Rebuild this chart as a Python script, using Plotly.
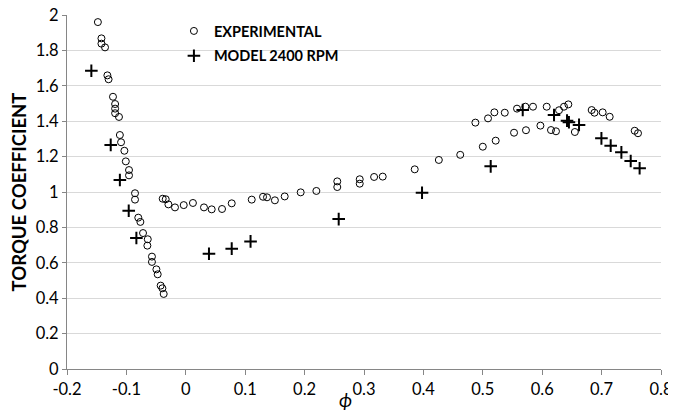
import plotly.graph_objects as go

exp_phi = [-0.148, -0.142, -0.142, -0.136, -0.132, -0.130, -0.1226, -0.119, -0.119, -0.119,
           -0.1125, -0.111, -0.109, -0.1034, -0.101, -0.0956, -0.0956, -0.0855, -0.0855, -0.080,
           -0.0765, -0.072, -0.064, -0.0647, -0.057, -0.057, -0.0495, -0.0473, -0.0423, -0.0394,
           -0.0372, -0.0389, -0.0338, -0.0293, -0.0182, -0.0035, 0.012, 0.0306, 0.0436, 0.061,
           0.0773, 0.111, 0.130, 0.1367, 0.150, 0.1665, 0.1934, 0.2198, 0.255, 0.255,
           0.2928, 0.2928, 0.317, 0.3315, 0.3854, 0.426, 0.462, 0.4875, 0.500, 0.5088,
           0.5195, 0.5217, 0.537, 0.5526, 0.5576, 0.5717, 0.5727, 0.5845, 0.597, 0.6076,
           0.6148, 0.6232, 0.6283, 0.6367, 0.644, 0.655, 0.6833, 0.688, 0.7018, 0.7136,
           0.7557, 0.7613]
exp_torque = [1.960, 1.868, 1.838, 1.817, 1.659, 1.637, 1.538, 1.497, 1.471, 1.445,
              1.424, 1.322, 1.281, 1.233, 1.173, 1.124, 1.094, 0.993, 0.957, 0.855,
              0.831, 0.768, 0.733, 0.697, 0.635, 0.605, 0.563, 0.535, 0.471, 0.456,
              0.424, 0.962, 0.959, 0.930, 0.913, 0.926, 0.938, 0.913, 0.902, 0.904,
              0.936, 0.957, 0.973, 0.970, 0.953, 0.975, 0.998, 1.006, 1.060, 1.028,
              1.072, 1.047, 1.085, 1.087, 1.128, 1.181, 1.210, 1.392, 1.256, 1.416,
              1.450, 1.290, 1.448, 1.335, 1.471, 1.482, 1.349, 1.482, 1.375, 1.482,
              1.350, 1.343, 1.462, 1.482, 1.495, 1.339, 1.463, 1.448, 1.450, 1.425,
              1.346, 1.332]

model_phi = [-0.159, -0.1264, -0.111, -0.0961, -0.0832, 0.039, 0.0773, 0.109, 0.2574, 0.3977,
             0.5133, 0.5672, 0.6199, 0.6418, 0.645, 0.662, 0.6997, 0.7153, 0.7333, 0.749, 0.764]
model_torque = [1.685, 1.266, 1.068, 0.894, 0.740, 0.651, 0.680, 0.721, 0.847, 0.996,
                1.145, 1.463, 1.435, 1.403, 1.394, 1.379, 1.303, 1.262, 1.224, 1.175, 1.134]

x_ticks = [-0.2, -0.1, 0, 0.1, 0.2, 0.3, 0.4, 0.5, 0.6, 0.7, 0.8]
x_tick_text = ["-0.2", "-0.1", "0", "0.1", "0.2", "0.3", "0.4", "0.5", "0.6", "0.7", "0.8"]
y_ticks = [0, 0.2, 0.4, 0.6, 0.8, 1.0, 1.2, 1.4, 1.6, 1.8, 2.0]
y_tick_text = ["0", "0.2", "0.4", "0.6", "0.8", "1", "1.2", "1.4", "1.6", "1.8", "2"]

font_family = "Lato, 'Open Sans', sans-serif"

fig = go.Figure()
fig.add_trace(go.Scatter(
    x=exp_phi, y=exp_torque, mode="markers", name="EXPERIMENTAL",
    legendgroup="a",
    marker=dict(symbol="circle-open", size=7, color="black", line=dict(width=1, color="black")),
))
fig.add_trace(go.Scatter(
    x=model_phi, y=model_torque, mode="markers", name="MODEL 2400 RPM",
    legendgroup="b",
    marker=dict(symbol="cross-thin", size=9, color="black", line=dict(width=2, color="black")),
))

# The page body adds an 8px offset, so the figure is 8px smaller than the window.
fig.update_layout(
    width=668, height=403,
    margin=dict(l=59, r=15, t=7, b=42, autoexpand=False),
    paper_bgcolor="white", plot_bgcolor="white",
    font=dict(family=font_family, color="black"),
    showlegend=True,
    legend=dict(
        x=0.18, y=1.0, xanchor="left", yanchor="top",
        bgcolor="rgba(0,0,0,0)",
        font=dict(size=14.5, weight="bold", color="black", family=font_family),
        traceorder="grouped", tracegroupgap=3,
    ),
    xaxis=dict(
        range=[-0.2, 0.8], tickvals=x_ticks, ticktext=x_tick_text,
        showgrid=False, zeroline=False,
        showline=True, linecolor="#868686", linewidth=1,
        ticks="outside", ticklen=5, tickcolor="#868686",
        tickfont=dict(size=16.5, family=font_family, color="black"),
        ticklabeloverflow="allow",
    ),
    yaxis=dict(
        range=[0, 2], tickvals=y_ticks, ticktext=y_tick_text,
        showgrid=True, gridcolor="#d9d9d9", gridwidth=1,
        zeroline=False,
        showline=True, linecolor="#868686", linewidth=1,
        ticks="outside", ticklen=4, tickcolor="#868686",
        tickfont=dict(size=16.5, family=font_family, color="black"),
        ticklabeloverflow="allow",
        title=dict(text="TORQUE COEFFICIENT", standoff=7,
                   font=dict(size=18.5, weight="bold", family=font_family, color="black")),
    ),
    annotations=[dict(
        text="<i>ϕ</i>", xref="paper", yref="paper", x=0.469, y=-0.087,
        xanchor="center", yanchor="middle", showarrow=False,
        font=dict(size=19, family=font_family, color="black"),
    )],
)

fig.write_html("out.html")
